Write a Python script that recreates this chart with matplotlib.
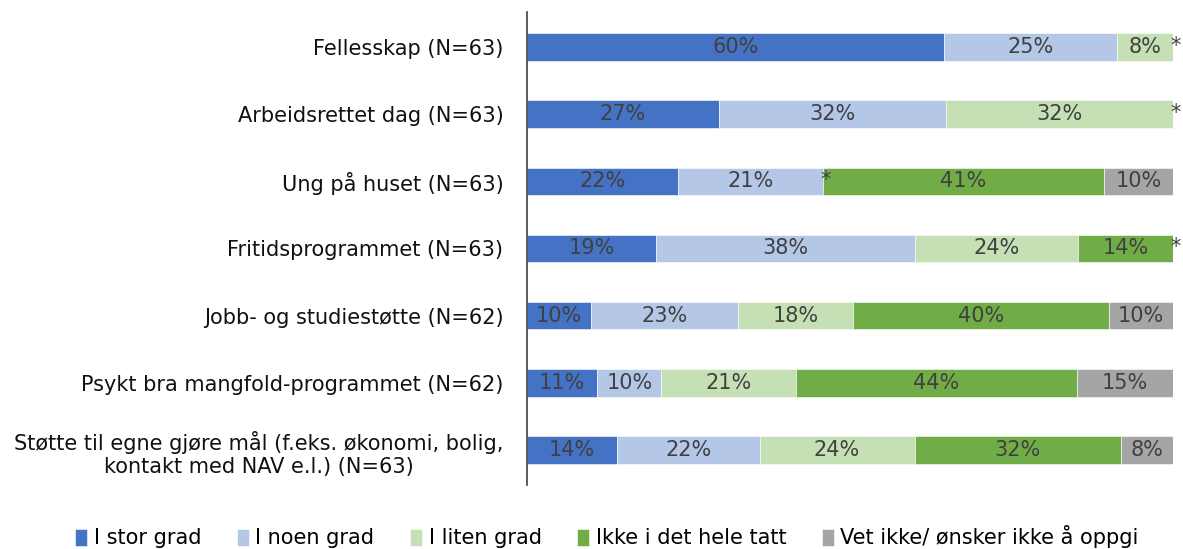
import numpy as np
import matplotlib.pyplot as plt

categories = [
    'Fellesskap (N=63)',
    'Arbeidsrettet dag (N=63)',
    'Ung på huset (N=63)',
    'Fritidsprogrammet (N=63)',
    'Jobb- og studiestøtte (N=62)',
    'Psykt bra mangfold-programmet (N=62)',
    'Støtte til egne gjøre mål (f.eks. økonomi, bolig,\nkontakt med NAV e.l.) (N=63)',
]
series = ['I stor grad', 'I noen grad', 'I liten grad', 'Ikke i det hele tatt',
          'Vet ikke/ ønsker ikke å oppgi']
colors = ['#4472C4', '#B4C7E7', '#C5E0B4', '#70AD47', '#A5A5A5']

# nan = small value shown only as "*", 0 = none
stor = [60, 27, 22, 19, 10, 11, 14]
noen = [25, 32, 21, 38, 23, 10, 22]
liten = [8, 32, np.nan, 24, 18, 21, 24]
ikke = [np.nan, np.nan, 41, 14, 40, 44, 32]
vet = [0, 0, 10, np.nan, 10, 15, 8]

data = np.array([stor, noen, liten, ikke, vet], dtype=float)
totals = np.nansum(data, axis=0)
shares = np.nan_to_num(data) / totals * 100

fig = plt.figure(figsize=(11.83, 5.49), dpi=100)
ax = fig.add_axes([527 / 1183, 1 - 485 / 549, 646 / 1183, 473 / 549])

font = 'DejaVu Sans'
fs = 15
y = np.arange(len(categories))
left = np.zeros(len(categories))
for i, name in enumerate(series):
    ax.barh(y, shares[i], left=left, height=0.41, color=colors[i], label=name,
            edgecolor='white', linewidth=0.4)
    for j in range(len(categories)):
        v = data[i, j]
        if np.isnan(v):
            ax.text(left[j] + 0.4, y[j] - 0.02, '*', ha='center', va='center',
                    fontsize=fs, color='#404040', family=font)
        elif v > 0:
            ax.text(left[j] + shares[i, j] / 2, y[j], f'{int(v)}%', ha='center',
                    va='center', fontsize=fs, color='#404040', family=font)
    left += shares[i]

ax.set_xlim(0, 100)
ax.set_ylim(len(categories) - 0.48, -0.52)
ax.set_yticks(y)
ax.set_yticklabels(categories, fontsize=fs, family=font, color='#111111',
                   multialignment='center')
ax.tick_params(axis='y', length=0, pad=17)
ax.set_xticks([])
for s in ['top', 'right', 'bottom']:
    ax.spines[s].set_visible(False)
ax.spines['left'].set_color('#404040')
ax.spines['left'].set_linewidth(1.2)

fig.legend(loc='center', bbox_to_anchor=(0.513, 1 - 537 / 549), ncol=5,
           frameon=False, prop={'family': font, 'size': fs},
           handlelength=0.6, handleheight=0.9, handletextpad=0.3,
           columnspacing=1.7, borderaxespad=0)

fig.savefig('out.png', dpi=100)
